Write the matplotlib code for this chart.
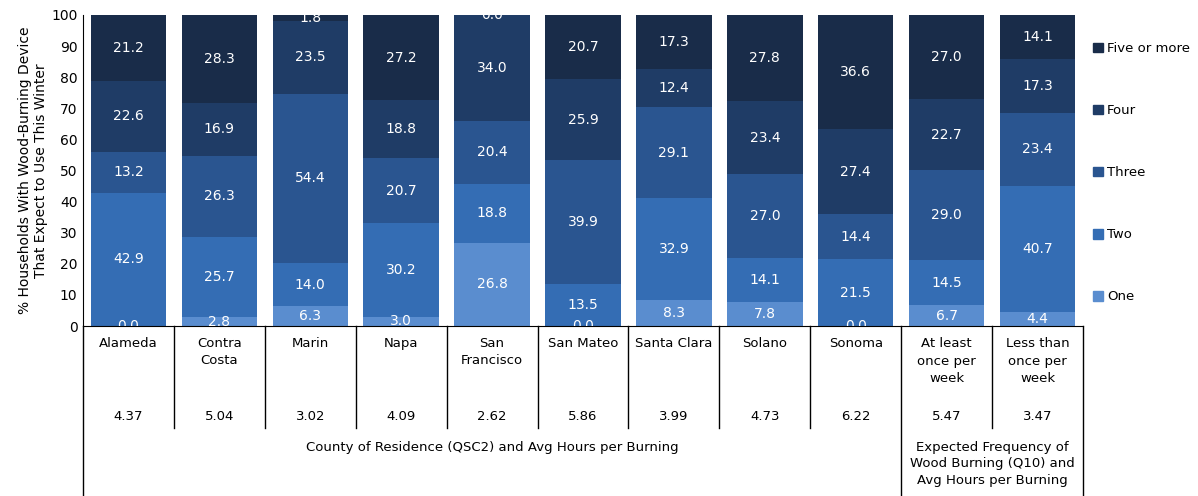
import matplotlib
matplotlib.use("Agg")
import matplotlib.pyplot as plt
from matplotlib.patches import Patch

categories = ["Alameda", "Contra\nCosta", "Marin", "Napa", "San\nFrancisco", "San Mateo",
              "Santa Clara", "Solano", "Sonoma", "At least\nonce per\nweek", "Less than\nonce per\nweek"]
avg_hours = ["4.37", "5.04", "3.02", "4.09", "2.62", "5.86", "3.99", "4.73", "6.22", "5.47", "3.47"]

one = [0.0, 2.8, 6.3, 3.0, 26.8, 0.0, 8.3, 7.8, 0.0, 6.7, 4.4]
two = [42.9, 25.7, 14.0, 30.2, 18.8, 13.5, 32.9, 14.1, 21.5, 14.5, 40.7]
three = [13.2, 26.3, 54.4, 20.7, 20.4, 39.9, 29.1, 27.0, 14.4, 29.0, 23.4]
four = [22.6, 16.9, 23.5, 18.8, 34.0, 25.9, 12.4, 23.4, 27.4, 22.7, 17.3]
five = [21.2, 28.3, 1.8, 27.2, 0.0, 20.7, 17.3, 27.8, 36.6, 27.0, 14.1]

series = [("One", one, "#5a8dcf"), ("Two", two, "#346db4"), ("Three", three, "#2a5590"),
          ("Four", four, "#1f3c66"), ("Five or more", five, "#192c49")]

group1 = "County of Residence (QSC2) and Avg Hours per Burning"
group2 = "Expected Frequency of\nWood Burning (Q10) and\nAvg Hours per Burning"

fig = plt.figure(figsize=(11.98, 4.96), dpi=100)
ax = fig.add_axes([83 / 1198, 170 / 496, 1000 / 1198, 311 / 496])

x = list(range(len(categories)))
bottom = [0.0] * len(categories)
for name, vals, col in series:
    ax.bar(x, vals, width=0.83, bottom=bottom, color=col, label=name)
    for i, v in enumerate(vals):
        ax.text(i, bottom[i] + v / 2, f"{v:.1f}", ha="center", va="center",
                color="white", fontsize=10, clip_on=True)
    bottom = [b + v for b, v in zip(bottom, vals)]

ax.set_xlim(-0.5, 10.5)
ax.set_ylim(0, 100)
ax.set_yticks(range(0, 101, 10))
ax.tick_params(axis="y", length=0, pad=4, labelsize=10)
ax.set_xticks([])
ax.spines["top"].set_visible(False)
ax.spines["right"].set_visible(False)
ax.set_ylabel("% Households With Wood-Burning Device\nThat Expect to Use This Winter",
              fontsize=10, labelpad=2)

# table below the chart
tr = ax.get_xaxis_transform()
def fy(px):
    return (326 - px) / 311

for i, lab in enumerate(categories):
    ax.text(i, fy(337), lab, transform=tr, ha="center", va="top", fontsize=9.5,
            linespacing=1.45)
    ax.text(i, fy(417), avg_hours[i], transform=tr, ha="center", va="center", fontsize=9.5)

for i in range(1, 11):
    if i == 9:
        continue
    ax.plot([i - 0.5, i - 0.5], [0, fy(428)], transform=tr, color="black", lw=1, clip_on=False)
for xl in [-0.5, 8.5, 10.5]:
    ax.plot([xl, xl], [0, fy(500)], transform=tr, color="black", lw=1, clip_on=False)

ax.text(4, fy(448), group1, transform=tr, ha="center", va="center", fontsize=9.5)
ax.text(9.5, fy(464), group2, transform=tr, ha="center", va="center", fontsize=9.5,
        linespacing=1.35)

handles = [Patch(color=c, label=n) for n, v, c in series][::-1]
ax.legend(handles=handles, loc="upper left", bbox_to_anchor=(1.005, 0.93), frameon=False,
          fontsize=9.5, handlelength=0.75, handleheight=0.75, handletextpad=0.3,
          labelspacing=3.72, borderaxespad=0)

fig.savefig("out.png", dpi=100)
